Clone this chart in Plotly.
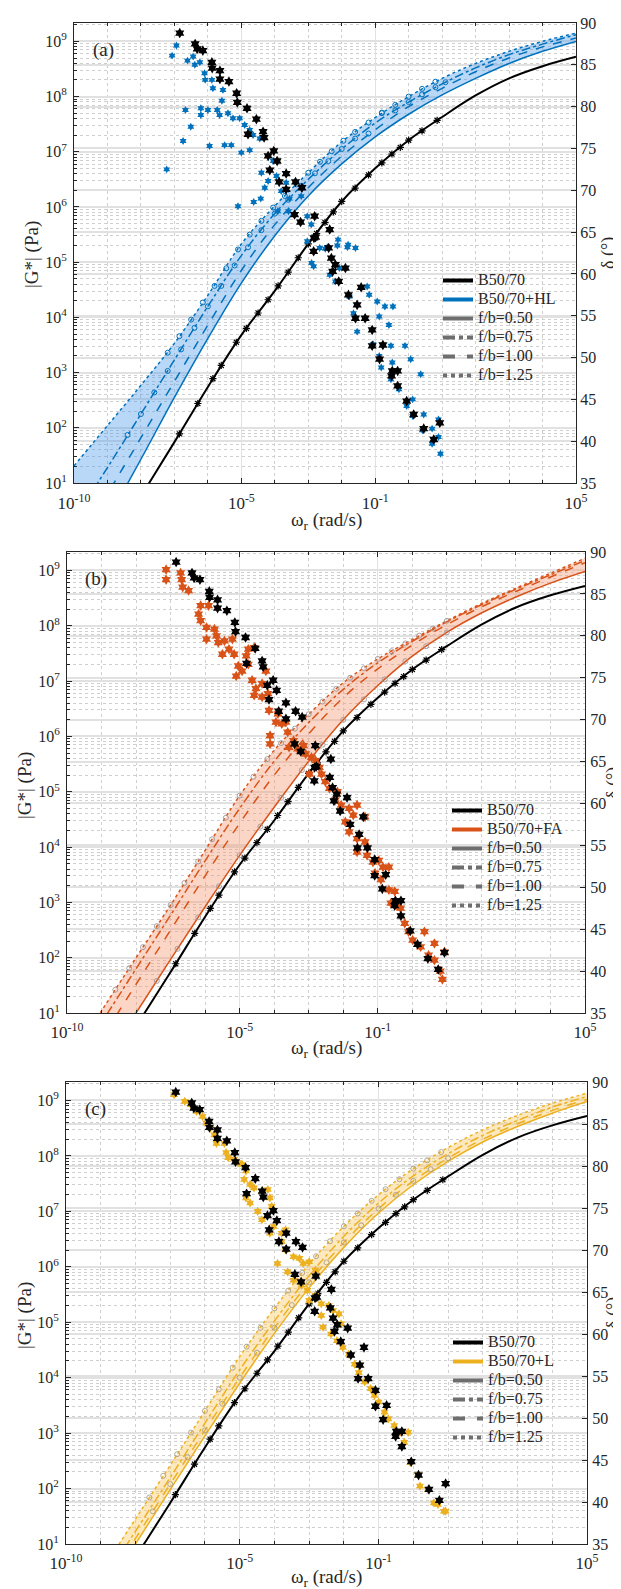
import plotly.graph_objects as go

FONT = "Liberation Serif, Times New Roman, Times, serif"
TXT = "#262626"

# ---------------- data (log10 of omega_r in rad/s, log10 of |G*| in Pa, delta in deg) ----------------
curve_logw = [-10, -9, -8, -7, -6, -5, -4, -3, -2, -1, 0, 1, 2, 3, 4, 5]

# reference binder B50/70 (same in all panels)
b5070_logG = [-1.2, -0.22, 0.76, 1.74, 2.74, 3.68, 4.48, 5.33, 6.10, 6.70, 7.21, 7.63, 8.02, 8.33, 8.55, 8.72]
b5070_G_logw = [-6.85, -6.3, -5.85, -5.6, -5.15, -4.85, -4.5, -4.2, -3.9, -3.6, -3.3, -3.0, -2.75, -2.5,
                -2.25, -2.0, -1.6, -1.2, -0.8, -0.5, -0.25, 0.0, 0.4, 0.85]
b5070_G_logG = [1.89, 2.44, 2.89, 3.13, 3.55, 3.8, 4.08, 4.32, 4.57, 4.82, 5.08, 5.33, 5.52, 5.72,
                5.91, 6.1, 6.34, 6.58, 6.8, 6.96, 7.08, 7.21, 7.38, 7.57]
b5070_d_logw = [-6.84, -6.38, -6.32, -6.15, -5.88, -5.87, -5.64, -5.64, -5.37, -5.14, -5.12, -4.83, -4.55,
                -4.80, -4.35, -4.32, -4.03, -4.20, -3.93, -4.15, -3.66, -3.87, -3.38, -3.66, -3.19, -3.41,
                -2.81, -3.23, -2.83, -2.36, -2.78, -2.84, -2.39, -2.31, -2.19, -1.89, -2.27, -2.09, -1.80,
                -1.54, -1.42, -1.59, -1.30, -1.09, -1.09, -0.77, -0.87, -0.49, -0.33, -0.51, -0.33, -0.06,
                0.15, 0.45, 0.75, 0.93]
b5070_d = [88.8, 87.5, 86.9, 86.7, 85.3, 84.6, 84.3, 83.3, 83.0, 81.6, 80.5, 79.8, 78.5,
           76.7, 77.0, 76.3, 74.7, 74.1, 73.5, 72.4, 72.0, 71.0, 71.0, 70.1, 70.3, 67.1,
           66.9, 66.2, 64.3, 65.3, 64.4, 62.7, 63.1, 61.9, 61.1, 60.7, 60.3, 59.1, 57.5,
           56.3, 58.4, 54.7, 54.7, 53.3, 51.4, 51.5, 49.8, 48.4, 48.4, 47.8, 46.6, 44.8,
           43.2, 41.5, 40.2, 42.2]

# (a) B50/70+HL
hl_050 = [-0.77, 0.33, 1.43, 2.55, 3.62, 4.62, 5.48, 6.2, 6.78, 7.27, 7.68, 8.03, 8.33, 8.6, 8.82, 9.0]
hl_075 = [0.33, 1.28, 2.25, 3.23, 4.2, 5.12, 5.88, 6.5, 7.05, 7.52, 7.9, 8.23, 8.52, 8.76, 8.95, 9.12]
hl_100 = [-0.22, 0.8, 1.82, 2.84, 3.86, 4.85, 5.68, 6.35, 6.92, 7.4, 7.82, 8.15, 8.45, 8.7, 8.9, 9.06]
hl_125 = [1.31, 2.04, 2.77, 3.53, 4.4, 5.33, 6.02, 6.62, 7.18, 7.62, 8.0, 8.33, 8.6, 8.82, 9.0, 9.15]
hl_G_logw = [-7.2, -6.85, -6.5, -6.15, -5.8, -5.45, -5.1, -4.75, -4.4, -4.05, -3.7, -3.35, -3.0, -2.65,
             -2.3, -1.95, -1.6, -1.2, -0.8, -0.4, 0.0, 0.4, 0.8,
             -8.4, -8.0, -7.6, -7.2, -6.8, -6.4, -6.0, -5.6, -5.2, -4.8, -4.4, -4.0, -3.6, -3.2, -2.8,
             -2.4, -2.0, -1.6, -1.2, -0.8, -0.4, 0.0, 0.4, 0.8, 1.1]
hl_G_logG = [3.36, 3.66, 3.96, 4.27, 4.57, 4.89, 5.23, 5.5, 5.75, 5.99, 6.2, 6.41, 6.62, 6.82,
             7.01, 7.2, 7.36, 7.53, 7.7, 7.85, 8.0, 8.14, 8.27,
             1.87, 2.25, 2.64, 3.03, 3.42, 3.81, 4.2, 4.57, 4.94, 5.27, 5.58, 5.88, 6.13, 6.38, 6.61,
             6.83, 7.05, 7.24, 7.33, 7.71, 7.75, 7.9, 8.04, 8.17, 8.26]
hl_d_logw = [-6.94, -7.07, -7.23, -6.74, -6.67, -6.51, -6.61, -6.44, -6.39, -6.24, -6.21, -6.21, -6.00,
             -5.95, -6.10, -6.08, -5.88, -5.85, -5.72, -5.65, -5.55, -5.50, -5.40, -5.30, -5.58, -5.25,
             -5.05, -5.00, -4.90, -4.75, -4.65, -4.45, -4.75, -4.40, -4.20, -5.10, -4.63, -4.42, -4.30,
             -4.05, -3.95, -3.81, -3.66, -3.56, -3.91, -3.59, -3.21, -3.03, -2.91, -2.81, -2.11, -1.81,
             -2.43, -2.66, -3.03, -2.90, -2.84, -2.49, -2.13, -1.83, -1.59, -2.36, -2.07, -2.19, -1.77,
             -1.65, -1.54, -1.24, -1.18, -0.94, -0.71, -0.47, -0.88, -0.59, -1.06, -0.88, -0.82, -0.53,
             -0.49, -0.11, 0.06, -0.53, -0.29, -0.06, 0.12, 0.36, 0.12, 0.41, 0.70, 0.70, 0.89, 0.89,
             0.95, 0.45]
hl_d = [87.3, 86.1, 72.5, 75.9, 79.6, 77.6, 85.5, 86.0, 85.0, 85.3, 79.8, 79.0, 79.6,
        75.3, 84.0, 83.2, 83.2, 82.2, 79.6, 79.0, 82.0, 75.4, 79.2, 75.4, 80.7, 78.6,
        78.6, 74.5, 77.8, 77.2, 76.6, 76.2, 74.8, 72.1, 71.1, 68.1, 68.6, 69.0, 70.3,
        73.5, 71.7, 69.9, 70.9, 69.0, 67.5, 67.5, 69.3, 66.9, 65.9, 64.3, 64.1, 63.5,
        63.2, 63.1, 63.9, 61.3, 60.9, 63.0, 63.4, 63.2, 63.1, 59.9, 60.7, 59.1, 57.3,
        55.3, 53.1, 58.5, 57.5, 56.7, 56.1, 56.1, 54.9, 53.9, 51.6, 50.2, 48.8, 51.4,
        49.4, 51.4, 49.8, 47.4, 46.2, 44.2, 45.0, 48.0, 43.0, 41.3, 41.5, 39.7, 42.6, 40.5,
        38.5, 43.2]

# (b) B50/70+FA
fa_050 = [-1.0, 0.0, 1.0, 1.97, 2.92, 3.85, 4.72, 5.55, 6.3, 6.92, 7.45, 7.88, 8.23, 8.52, 8.77, 8.98]
fa_075 = [-0.1, 0.83, 1.8, 2.77, 3.75, 4.7, 5.55, 6.25, 6.85, 7.33, 7.72, 8.07, 8.38, 8.66, 8.92, 9.18]
fa_100 = [-0.4, 0.54, 1.52, 2.5, 3.48, 4.43, 5.3, 6.05, 6.7, 7.22, 7.65, 8.02, 8.34, 8.62, 8.88, 9.14]
fa_125 = [0.1, 1.04, 2.0, 2.95, 3.94, 4.93, 5.75, 6.4, 6.97, 7.4, 7.75, 8.09, 8.4, 8.68, 8.95, 9.22]
fa_G_logw = [-8.6, -8.2, -7.8, -7.4, -7.0, -6.6, -6.2, -5.8, -5.4, -5.0, -4.6, -4.2, -3.8, -3.4, -3.0,
             -2.6, -2.2, -1.8, -1.4, -1.0, -0.6, -0.2, 0.2, 0.6, 1.0,
             -7.4, -6.8, -6.2, -5.6, -5.0, -4.4, -3.8, -3.2, -2.6, -2.0, -1.4, -0.8, -0.2, 0.4, 1.0]
fa_G_logG = [1.42, 1.81, 2.19, 2.57, 2.95, 3.35, 3.74, 4.14, 4.53, 4.93, 5.27, 5.59, 5.88, 6.14, 6.4,
             6.63, 6.86, 7.06, 7.23, 7.4, 7.54, 7.68, 7.82, 7.95, 8.09,
             1.58, 2.16, 2.73, 3.29, 3.85, 4.37, 4.89, 5.39, 5.85, 6.3, 6.67, 7.03, 7.36, 7.63, 7.88]
fa_d_logw = [-7.13, -7.13, -6.71, -6.68, -6.65, -6.48, -6.13, -6.19, -6.13, -5.90, -5.96, -5.73, -5.67,
             -5.96, -5.62, -5.44, -5.50, -5.31, -5.21, -5.16, -5.04, -5.10, -4.93, -4.81, -4.75, -4.58,
             -4.75, -4.64, -4.53, -4.35, -4.24, -4.58, -4.35, -4.18, -4.15, -3.89, -3.78, -3.95, -3.66,
             -4.12, -4.12, -3.61, -3.44, -3.57, -3.32, -3.15, -3.09, -2.92, -2.80, -2.69, -2.63, -2.98,
             -2.52, -2.40, -2.17, -2.23, -2.06, -1.83, -1.71, -1.60, -1.37, -1.94, -1.83, -1.60, -1.37,
             -1.60, -1.31, -1.14, -0.97, -1.08, -0.85, -0.68, -0.91, -0.68, -0.51, -0.62, -0.45, -0.34,
             -0.22, -0.11, 0.01, 0.35, 0.24, 0.47, 0.64, 0.64, 0.81, 0.87, 0.93]
fa_d = [87.9, 86.7, 87.5, 86.7, 85.8, 85.4, 83.6, 82.6, 81.8, 83.6, 81.0, 80.8, 80.0,
        79.6, 79.2, 79.4, 77.8, 78.4, 79.6, 77.8, 76.4, 75.2, 75.8, 77.6, 78.4, 78.6,
        76.6, 74.7, 73.7, 74.3, 75.8, 72.9, 72.7, 73.1, 71.1, 70.7, 69.5, 69.7, 69.7,
        68.1, 67.1, 68.5, 67.5, 66.7, 66.5, 66.9, 65.9, 65.5, 65.1, 64.3, 63.5, 63.5,
        62.6, 61.8, 61.4, 60.4, 59.8, 59.4, 58.6, 59.8, 58.4, 57.8, 56.6, 55.8, 55.4,
        54.2, 53.8, 53.0, 53.2, 51.7, 52.4, 52.4, 50.9, 49.7, 49.5, 48.1, 47.9, 47.5,
        45.7, 44.7, 43.7, 44.7, 42.9, 41.9, 43.3, 41.3, 40.0, 39.0, 42.3]

# (c) B50/70+L
l_050 = [-0.95, 0.03, 1.0, 1.98, 2.95, 3.9, 4.8, 5.62, 6.35, 6.97, 7.48, 7.9, 8.25, 8.53, 8.77, 8.98]
l_075 = [-0.7, 0.27, 1.23, 2.2, 3.18, 4.14, 5.02, 5.84, 6.55, 7.15, 7.64, 8.04, 8.37, 8.64, 8.88, 9.07]
l_100 = [-0.85, 0.13, 1.1, 2.08, 3.05, 4.0, 4.9, 5.72, 6.44, 7.05, 7.55, 7.96, 8.3, 8.58, 8.82, 9.02]
l_125 = [-0.45, 0.5, 1.45, 2.42, 3.4, 4.38, 5.25, 6.05, 6.73, 7.3, 7.77, 8.15, 8.47, 8.73, 8.95, 9.13]
l_G_logw = [-7.6, -7.2, -6.8, -6.4, -6.0, -5.6, -5.2, -4.8, -4.4, -4.0, -3.6, -3.2, -2.8, -2.4, -2.0,
            -1.6, -1.2, -0.8, -0.4, 0.0, 0.4, 0.8,
            -7.5, -7.0, -6.5, -6.0, -5.5, -5.0, -4.5, -4.0, -3.5, -3.0, -2.5, -2.0, -1.5, -1.0, -0.5,
            0.0, 0.5, 1.0]
l_G_logG = [1.84, 2.23, 2.62, 3.01, 3.4, 3.79, 4.18, 4.56, 4.9, 5.25, 5.57, 5.89, 6.19, 6.46, 6.73,
            6.96, 7.19, 7.4, 7.58, 7.77, 7.92, 8.07,
            1.59, 2.08, 2.57, 3.05, 3.53, 4.0, 4.45, 4.9, 5.31, 5.72, 6.08, 6.44, 6.75, 7.05, 7.3,
            7.55, 7.76, 7.96]
l_d_logw = [-6.89, -6.58, -6.41, -6.24, -6.07, -5.96, -5.84, -5.73, -5.67, -5.44, -5.39, -5.33, -5.16,
            -5.05, -4.93, -4.82, -4.87, -4.70, -4.59, -4.36, -4.19, -4.13, -4.08, -4.82, -4.70, -4.48,
            -4.36, -4.13, -4.02, -3.79, -3.68, -3.79, -3.68, -3.45, -3.28, -3.17, -3.00, -2.82, -3.91,
            -3.62, -3.45, -3.22, -3.05, -3.00, -2.82, -2.65, -2.43, -2.31, -2.14, -2.08, -2.65, -2.60,
            -2.37, -2.20, -2.03, -1.86, -1.69, -1.57, -1.40, -1.23, -1.12, -1.00, -0.83, -0.72, -0.55,
            -0.43, -0.26, -0.15, -0.09, 0.14, 0.19, 0.42, 0.59, 0.71, 0.88, 0.93]
l_d = [88.5, 87.7, 87.3, 86.5, 85.9, 85.1, 84.5, 83.7, 82.7, 82.7, 81.6, 81.0, 80.8,
       80.4, 80.2, 79.4, 78.4, 77.8, 77.4, 77.0, 77.2, 76.2, 75.2, 76.2, 75.6, 74.6,
       73.6, 72.0, 72.8, 72.0, 72.4, 71.0, 70.0, 69.2, 69.0, 68.4, 68.6, 67.6, 68.4,
       67.4, 66.4, 65.8, 65.2, 64.0, 64.6, 63.6, 63.4, 62.8, 62.4, 61.2, 62.2, 60.8,
       60.0, 59.2, 58.4, 57.6, 56.4, 55.4, 54.3, 53.5, 52.7, 51.9, 50.7, 49.9, 49.1,
       48.1, 47.1, 48.3, 44.7, 43.3, 41.9, 41.5, 39.9, 39.7, 38.9, 38.9]

x_tick_exp = [-10, -5, -1, 5]
y_tick_exp = [1, 2, 3, 4, 5, 6, 7, 8, 9]
d_ticks = [35, 40, 45, 50, 55, 60, 65, 70, 75, 80, 85, 90]

x_title = "ω<sub>r</sub> (rad/s)"
y_title = "|G*| (Pa)"
y2_title = "δ (°)"


def p10(v):
    return [10 ** e for e in v]


# ---------------- geometry (pixel positions on the 621 x 1589 page) ----------------
W, H = 621, 1589


def fx(px):
    return px / W


def fy(py):
    return 1 - py / H


panels = [
    dict(l=66, r=568, t=15, b=475, name="B50/70+HL", color="#0072BD", fill="rgba(70,150,235,0.38)",
         curves=(hl_050, hl_075, hl_100, hl_125), Gx=hl_G_logw, Gy=hl_G_logG, circ="#0072BD",
         dx=hl_d_logw, dy=hl_d, ms=6, label="(a)", leg=(430, 258),
         xlab=5, rlab=0, xt=(318, 513), yt=(24, 247), rt=(601, 245)),
    dict(l=59, r=577, t=544, b=1005, name="B50/70+FA", color="#D95319", fill="rgba(245,150,110,0.40)",
         curves=(fa_050, fa_075, fa_100, fa_125), Gx=fa_G_logw, Gy=fa_G_logG, circ="rgba(160,150,150,0.9)",
         dx=fa_d_logw, dy=fa_d, ms=8, label="(b)", leg=(439, 788),
         xlab=4, rlab=1, xt=(319, 1041), yt=(17, 778), rt=(605, 775)),
    dict(l=58, r=579, t=1074, b=1536, name="B50/70+L", color="#EDB120", fill="rgba(252,205,110,0.45)",
         curves=(l_050, l_075, l_100, l_125), Gx=l_G_logw, Gy=l_G_logG, circ="rgba(170,160,140,0.9)",
         dx=l_d_logw, dy=l_d, ms=7, label="(c)", leg=(440, 1320),
         xlab=4, rlab=1, xt=(319, 1570), yt=(17, 1308), rt=(605, 1305)),
]

fig = go.Figure()
dashes = ["solid", "dashdot", "dash", "dot"]
fb_names = ["f/b=0.50", "f/b=0.75", "f/b=1.00", "f/b=1.25"]

xminor = [10 ** e for e in range(-10, 6) if e not in x_tick_exp]
yminor = [k * 10 ** e for e in range(1, 10) for k in range(2, 10)]


def ann(text, px, py, size, angle=0):
    fig.add_annotation(text=text, xref="paper", yref="paper", x=fx(px), y=fy(py),
                       xanchor="center", yanchor="middle", showarrow=False, textangle=angle,
                       font=dict(family=FONT, size=size, color=TXT))


for i, p in enumerate(panels):
    n = i + 1
    xa = "x" if n == 1 else f"x{n}"
    ya = "y" if n == 1 else f"y{2 * n - 1}"
    yb = f"y{2 * n}"
    legname = "legend" if n == 1 else f"legend{n}"

    up, lo = p["curves"][3], p["curves"][0]
    fig.add_trace(go.Scatter(
        x=p10(curve_logw) + p10(curve_logw[::-1]), y=p10(up) + p10(lo[::-1]),
        fill="toself", fillcolor=p["fill"], line=dict(width=0), mode="lines",
        hoverinfo="skip", showlegend=False, xaxis=xa, yaxis=ya))
    for c, d in zip(p["curves"], dashes):
        fig.add_trace(go.Scatter(x=p10(curve_logw), y=p10(c), mode="lines",
                                 line=dict(color=p["color"], width=1.5, dash=d, shape="spline"),
                                 showlegend=False, xaxis=xa, yaxis=ya))
    fig.add_trace(go.Scatter(x=p10(curve_logw), y=p10(b5070_logG), mode="lines",
                             line=dict(color="black", width=2, shape="spline"),
                             showlegend=False, xaxis=xa, yaxis=ya))
    fig.add_trace(go.Scatter(x=p10(p["Gx"]), y=p10(p["Gy"]), mode="markers",
                             marker=dict(symbol="circle-open", size=5, color=p["circ"], line=dict(width=1)),
                             showlegend=False, xaxis=xa, yaxis=ya))
    fig.add_trace(go.Scatter(x=p10(b5070_G_logw), y=p10(b5070_G_logG), mode="markers",
                             marker=dict(symbol="asterisk-open", size=6, color="black",
                                         line=dict(width=1.2, color="black")),
                             showlegend=False, xaxis=xa, yaxis=ya))
    fig.add_trace(go.Scatter(x=p10(p["dx"]), y=p["dy"], mode="markers",
                             marker=dict(symbol="hexagram", size=p["ms"], color=p["color"], line=dict(width=0)),
                             showlegend=False, xaxis=xa, yaxis=yb))
    fig.add_trace(go.Scatter(x=p10(b5070_d_logw), y=b5070_d, mode="markers",
                             marker=dict(symbol="hexagram", size=8, color="black", line=dict(width=0)),
                             showlegend=False, xaxis=xa, yaxis=yb))

    def leg(txt, color, dash="solid"):
        fig.add_trace(go.Scatter(x=[None], y=[None], mode="lines",
                                 name=f"<span style='font-size:16px'>{txt}</span>",
                                 line=dict(color=color, width=4, dash=dash), legend=legname,
                                 xaxis=xa, yaxis=ya))
    leg("B50/70", "black")
    leg(p["name"], p["color"])
    for nm, d in zip(fb_names, dashes):
        leg(nm, "#6e6e6e", d)

    dom_x = [fx(p["l"]), fx(p["r"])]
    dom_y = [fy(p["b"]), fy(p["t"])]
    axfont = dict(family=FONT, size=16, color=TXT)
    fig.layout[("xaxis" if n == 1 else f"xaxis{n}")] = dict(
        type="log", domain=dom_x, range=[-10, 5], anchor=ya, automargin=False,
        tickvals=p10(x_tick_exp), ticktext=[f"10<sup>{e}</sup>" for e in x_tick_exp],
        ticks="inside", ticklen=5, tickcolor=TXT, showline=True, linecolor=TXT, linewidth=1, mirror="ticks",
        showgrid=True, gridcolor="#e1e1e1", gridwidth=1, zeroline=False,
        tickfont=dict(family=FONT, size=17, color=TXT),
        minor=dict(tickvals=xminor, ticks="inside", ticklen=3, tickcolor=TXT, showgrid=True,
                   gridcolor="#cfcfcf", griddash="dot", gridwidth=1),
        ticklabelstandoff=p["xlab"])
    fig.layout[("yaxis" if n == 1 else f"yaxis{2 * n - 1}")] = dict(
        type="log", domain=dom_y, range=[1, 9.333], anchor=xa, automargin=False,
        tickvals=p10(y_tick_exp), ticktext=[f"10<sup>{e}</sup>" for e in y_tick_exp],
        ticks="inside", ticklen=5, tickcolor=TXT, showline=True, linecolor=TXT, linewidth=1,
        showgrid=True, gridcolor="#e1e1e1", gridwidth=1.5, zeroline=False, tickfont=axfont,
        ticklabelstandoff=3,
        minor=dict(tickvals=yminor, ticks="inside", ticklen=3, tickcolor=TXT, showgrid=True,
                   gridcolor="#cfcfcf", griddash="dot", gridwidth=1))
    fig.layout[f"yaxis{2 * n}"] = dict(
        overlaying=ya, side="right", anchor=xa, range=[35, 90], automargin=False,
        tickvals=d_ticks, ticks="inside", ticklen=5, tickcolor=TXT, showline=True, linecolor=TXT, linewidth=1,
        showgrid=True, gridcolor="#e1e1e1", gridwidth=1.5, zeroline=False, tickfont=axfont,
        ticklabelstandoff=p["rlab"])
    fig.layout[legname] = dict(x=fx(p["leg"][0]), y=fy(p["leg"][1]), xanchor="left", yanchor="top",
                               bgcolor="rgba(0,0,0,0)", borderwidth=0,
                               font=dict(family=FONT, size=12, color=TXT))
    ann(p["label"], p["l"] + 29, p["t"] + 27, 19)
    ann(x_title, *p["xt"], 19)
    ann(y_title, *p["yt"], 19, angle=-90)
    ann(y2_title, *p["rt"], 18, angle=-90)

fig.update_layout(width=W, height=H, margin=dict(l=0, r=0, t=0, b=0, autoexpand=False),
                  paper_bgcolor="white", plot_bgcolor="white", font=dict(family=FONT, color=TXT))
fig.write_html("out.html")
